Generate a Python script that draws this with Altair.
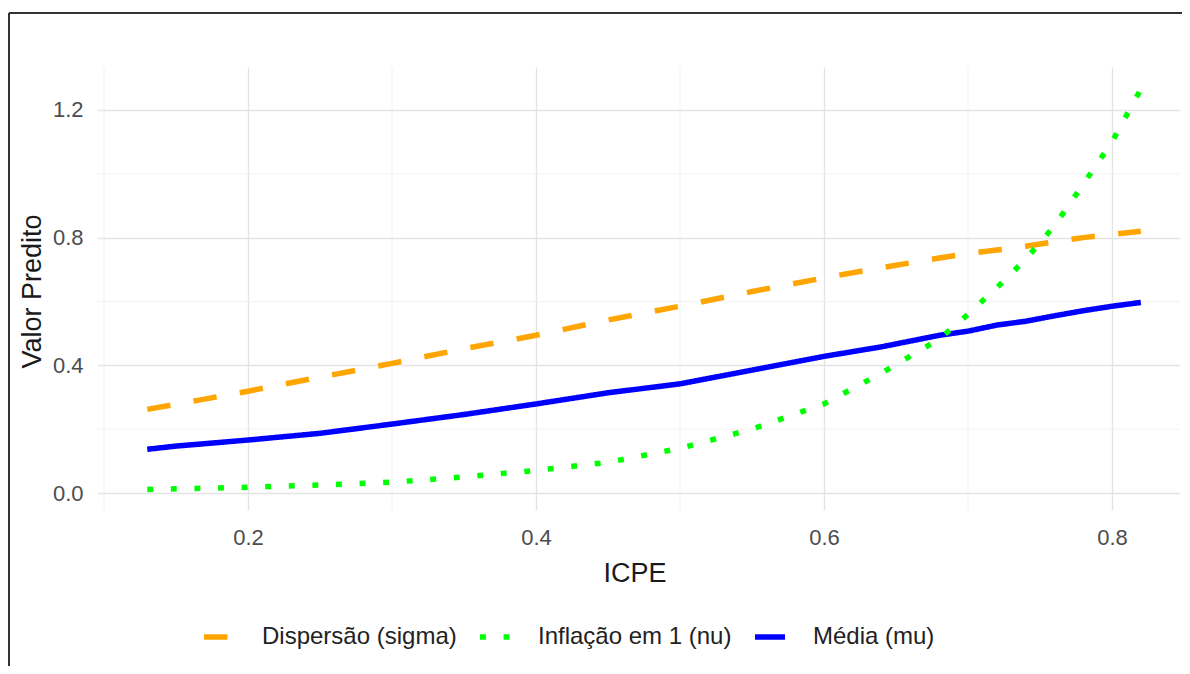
import altair as alt
import pandas as pd

# ---- data ----
icpe = [0.13, 0.15, 0.20, 0.25, 0.30, 0.35, 0.40, 0.45, 0.50, 0.55,
        0.60, 0.64, 0.68, 0.70, 0.72, 0.74, 0.76, 0.78, 0.80, 0.82]
media_mu = [0.137, 0.147, 0.166, 0.187, 0.216, 0.246, 0.279, 0.314, 0.342, 0.385,
            0.428, 0.458, 0.494, 0.507, 0.526, 0.538, 0.555, 0.571, 0.585, 0.597]
dispersao_sigma = [0.262, 0.278, 0.319, 0.363, 0.406, 0.452, 0.494, 0.542, 0.585, 0.631,
                   0.674, 0.706, 0.736, 0.750, 0.761, 0.773, 0.787, 0.800, 0.810, 0.820]
inflacao_nu = [0.011, 0.013, 0.018, 0.025, 0.034, 0.050, 0.071, 0.096, 0.140, 0.200,
               0.279, 0.376, 0.482, 0.560, 0.643, 0.732, 0.837, 0.967, 1.100, 1.265]

series_names = ["Dispersão (sigma)", "Inflação em 1 (nu)", "Média (mu)"]
series_colors = ["#FFA500", "#00FF00", "#0000FF"]
series_dashes = [[23.5, 23.5], [5.9, 17.7], [1, 0]]

x_major = [0.2, 0.4, 0.6, 0.8]
x_minor = [0.1, 0.3, 0.5, 0.7]
y_major = [0.0, 0.4, 0.8, 1.2]
y_minor = [0.2, 0.6, 1.0]

x_title = "ICPE"
y_title = "Valor Predito"

# ---- tables ----
rows = []
for name, vals in zip(series_names, [dispersao_sigma, inflacao_nu, media_mu]):
    for x, v in zip(icpe, vals):
        rows.append({"ICPE": x, "valor": v, "serie": name})
df = pd.DataFrame(rows)
df_xminor = pd.DataFrame({"v": x_minor})
df_yminor = pd.DataFrame({"v": y_minor})

FONT = "Liberation Sans"
W, H = 1083, 443
X_DOMAIN = [0.0951, 0.8472]
Y_DOMAIN = [-0.0532, 1.3344]

xscale = alt.Scale(domain=X_DOMAIN, nice=False, zero=False)
yscale = alt.Scale(domain=Y_DOMAIN, nice=False, zero=False)

xaxis = alt.Axis(values=x_major, format=".1f", grid=True, gridColor="#e4e4e4",
                 gridWidth=1.3, ticks=False, tickSize=0, domain=False,
                 labelFont=FONT, labelFontSize=22, labelColor="#4d4d4d",
                 labelPadding=17, title=x_title, titleFont=FONT,
                 titleFontSize=27, titleFontWeight="normal", titleColor="#1a1a1a",
                 titleX=W / 2 - 4, titleY=63, titleBaseline="middle", titleAlign="center")
yaxis = alt.Axis(values=y_major, format=".1f", grid=True, gridColor="#e4e4e4",
                 gridWidth=1.3, ticks=False, tickSize=0, domain=False,
                 labelFont=FONT, labelFontSize=22, labelColor="#4d4d4d",
                 labelPadding=14, title=y_title, titleFont=FONT,
                 titleFontSize=27, titleFontWeight="normal", titleColor="#1a1a1a",
                 titleX=-65, titleY=224, titleAngle=-90, titleBaseline="middle",
                 titleAlign="center")

legend = alt.Legend(orient="none", legendX=104, legendY=552, direction="horizontal",
                    title=None, labelFont=FONT, labelFontSize=24, labelColor="#222222",
                    labelLimit=0,
                    symbolType="stroke", symbolSize=900, symbolStrokeWidth=5.5,
                    labelOffset=25, columnPadding=12, padding=0)

color_enc = alt.Color("serie:N", scale=alt.Scale(domain=series_names, range=series_colors),
                      legend=legend)
dash_enc = alt.StrokeDash("serie:N", scale=alt.Scale(domain=series_names, range=series_dashes),
                          legend=legend)

x_enc = alt.X("ICPE:Q", scale=xscale, axis=xaxis)
y_enc = alt.Y("valor:Q", scale=yscale, axis=yaxis)

minor_x = alt.Chart(df_xminor).mark_rule(color="#f0f0f0", strokeWidth=0.9).encode(
    x=alt.X("v:Q", scale=xscale, axis=xaxis))
minor_y = alt.Chart(df_yminor).mark_rule(color="#f0f0f0", strokeWidth=0.9).encode(
    y=alt.Y("v:Q", scale=yscale, axis=yaxis))


def series_layer(name):
    return alt.Chart(df).transform_filter(alt.datum.serie == name).mark_line(
        strokeWidth=5.5, strokeCap="butt").encode(
        x=x_enc, y=y_enc, color=color_enc, strokeDash=dash_enc)


lines = [series_layer(series_names[2]), series_layer(series_names[0]),
         series_layer(series_names[1])]

# figure frame (left and top edges of the embedded image box)
frame_left = alt.Chart(df_xminor).mark_rule(color="#333333", strokeWidth=2).encode(
    x=alt.value(-88), y=alt.value(-54), y2=alt.value(700))
frame_top = alt.Chart(df_xminor).mark_rule(color="#333333", strokeWidth=2).encode(
    x=alt.value(-88), x2=alt.value(1200), y=alt.value(-54))

chart = alt.layer(minor_x, minor_y, *lines, frame_left, frame_top).properties(
    width=W, height=H,
    background="white",
    autosize=alt.AutoSizeParams(type="none"),
    padding={"left": 89, "top": 59, "right": 2, "bottom": 156},
).configure_view(stroke=None)

chart.save("out.html", embed_options={"renderer": "svg", "actions": False})
